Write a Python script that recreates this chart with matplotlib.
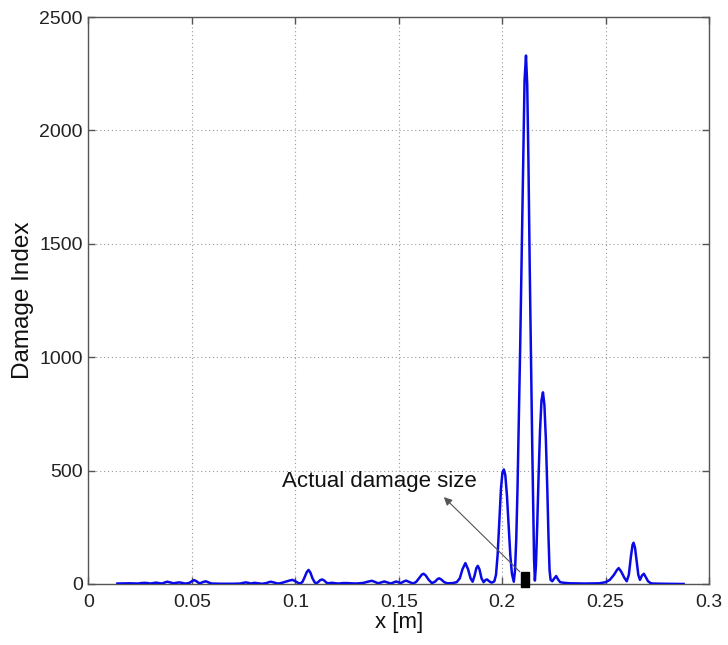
import matplotlib
matplotlib.use("Agg")
import matplotlib.pyplot as plt
from matplotlib.patches import Rectangle

plt.rcParams['font.family'] = ['Liberation Sans', 'DejaVu Sans']

# Data (x in m, damage index)
x_pos = [0.0140, 0.0200, 0.0240, 0.0255, 0.0270, 0.0285, 0.0300, 0.0313, 0.0326, 0.0340,
         0.0355, 0.0368, 0.0380, 0.0395, 0.0410, 0.0425, 0.0438, 0.0452, 0.0465, 0.0480,
         0.0490, 0.0500, 0.0511, 0.0522, 0.0532, 0.0540, 0.0552, 0.0567, 0.0580, 0.0595,
         0.0640, 0.0700, 0.0735, 0.0748, 0.0761, 0.0773, 0.0785, 0.0795, 0.0805, 0.0820,
         0.0840, 0.0860, 0.0872, 0.0882, 0.0895, 0.0910, 0.0920, 0.0935, 0.0950, 0.0962,
         0.0975, 0.0987, 0.1000, 0.1015, 0.1025, 0.1035, 0.1045, 0.1055, 0.1064, 0.1073,
         0.1083, 0.1093, 0.1100, 0.1110, 0.1120, 0.1130, 0.1140, 0.1150, 0.1160, 0.1170,
         0.1180, 0.1195, 0.1210, 0.1230, 0.1250, 0.1270, 0.1290, 0.1310, 0.1330, 0.1350,
         0.1370, 0.1385, 0.1400, 0.1415, 0.1430, 0.1445, 0.1460, 0.1473, 0.1487, 0.1500,
         0.1510, 0.1522, 0.1535, 0.1550, 0.1570, 0.1585, 0.1600, 0.1612, 0.1620, 0.1630,
         0.1645, 0.1660, 0.1675, 0.1688, 0.1696, 0.1705, 0.1720, 0.1735, 0.1760, 0.1780,
         0.1795, 0.1808, 0.1822, 0.1835, 0.1847, 0.1857, 0.1866, 0.1875, 0.1882, 0.1890,
         0.1900, 0.1910, 0.1920, 0.1927, 0.1937, 0.1948, 0.1955, 0.1962, 0.1970, 0.1978,
         0.1986, 0.1994, 0.2001, 0.2008, 0.2015, 0.2023, 0.2031, 0.2039, 0.2047, 0.2056,
         0.2062, 0.2068, 0.2074, 0.2080, 0.2087, 0.2094, 0.2101, 0.2108, 0.2115, 0.2121,
         0.2127, 0.2133, 0.2139, 0.2145, 0.2150, 0.2154, 0.2158, 0.2163, 0.2169, 0.2176,
         0.2183, 0.2190, 0.2197, 0.2204, 0.2211, 0.2218, 0.2224, 0.2229, 0.2234, 0.2242,
         0.2252, 0.2261, 0.2270, 0.2280, 0.2300, 0.2330, 0.2400, 0.2470, 0.2500, 0.2520,
         0.2540, 0.2555, 0.2563, 0.2575, 0.2590, 0.2602, 0.2612, 0.2622, 0.2630, 0.2635,
         0.2642, 0.2650, 0.2658, 0.2666, 0.2676, 0.2685, 0.2694, 0.2705, 0.2717, 0.2727,
         0.2780, 0.2877]
damage_index = [2, 3, 2, 4, 5, 4, 2, 4, 6, 4,
                2, 6, 10, 7, 3, 5, 7, 5, 2, 3,
                6, 12, 17, 12, 5, 3, 8, 12, 7, 2,
                1, 1, 2, 5, 7, 5, 2, 4, 5, 3,
                1, 4, 8, 10, 7, 3, 2, 5, 9, 12,
                16, 18, 12, 4, 2, 10, 30, 52, 62, 50,
                25, 8, 3, 8, 17, 20, 15, 6, 3, 5,
                5, 3, 2, 4, 4, 3, 2, 3, 5, 10,
                14, 9, 3, 7, 11, 7, 2, 6, 11, 7,
                4, 10, 15, 9, 2, 10, 28, 42, 45, 38,
                18, 4, 10, 22, 25, 20, 8, 3, 4, 8,
                25, 65, 92, 65, 25, 10, 35, 70, 80, 65,
                25, 8, 18, 20, 12, 6, 8, 12, 40, 130,
                280, 420, 490, 505, 480, 390, 260, 130, 45, 10,
                60, 200, 420, 700, 1050, 1450, 1880, 2220, 2330, 2200,
                1850, 1400, 1000, 620, 320, 110, 15, 80, 250, 480,
                680, 810, 845, 790, 640, 420, 200, 60, 18, 12,
                25, 35, 20, 8, 5, 3, 2, 3, 8, 18,
                40, 62, 70, 55, 28, 12, 40, 120, 172, 182,
                160, 100, 40, 18, 38, 45, 30, 12, 4, 2,
                1, 0]

# Actual damage location/size (m)
damage_start = 0.2090
damage_end = 0.2128
damage_marker_height = [-15, 55]

x_ticks = [0, 0.05, 0.1, 0.15, 0.2, 0.25, 0.3]
x_tick_labels = ['0', '0.05', '0.1', '0.15', '0.2', '0.25', '0.3']
y_ticks = [0, 500, 1000, 1500, 2000, 2500]

fig = plt.figure(figsize=(7.28, 6.45), dpi=100)
ax = fig.add_axes([0.1215, 0.0946, 0.8525, 0.879])

ax.plot(x_pos, damage_index, color='#0a0ae6', linewidth=1.8, zorder=3,
        solid_joinstyle='round')

ax.add_patch(Rectangle((damage_start, damage_marker_height[0]),
                       damage_end - damage_start,
                       damage_marker_height[1] - damage_marker_height[0],
                       facecolor='black', edgecolor='black', zorder=4, clip_on=False))

ax.text(0.1405, 452, 'Actual damage size', ha='center', va='center',
        fontsize=16, color='#111111', zorder=5)
ax.annotate('', xy=(0.1718, 383), xytext=(0.2085, 54),
            arrowprops=dict(arrowstyle='-|>', color='#555555', lw=0.8,
                            shrinkA=0, shrinkB=0, mutation_scale=12,
                            facecolor='black'),
            zorder=5)

ax.set_xlim(0, 0.3)
ax.set_ylim(0, 2500)
ax.set_xticks(x_ticks)
ax.set_xticklabels(x_tick_labels)
ax.set_yticks(y_ticks)

ax.grid(True, linestyle=(0, (1, 2.5)), color='#9a9a9a', linewidth=0.8)
ax.set_axisbelow(True)

for s in ax.spines.values():
    s.set_color('#555555')
    s.set_linewidth(1.0)

ax.tick_params(direction='in', top=True, right=True, length=5, width=1.0,
               colors='#555555', labelcolor='#222222', labelsize=14)
ax.tick_params(axis='x', pad=7)
ax.tick_params(axis='y', pad=4)

ax.set_xlabel('x [m]', fontsize=16, color='#111111', labelpad=1)
ax.set_ylabel('Damage Index', fontsize=17.5, color='#111111', labelpad=4)

fig.savefig('out.png', dpi=100)
